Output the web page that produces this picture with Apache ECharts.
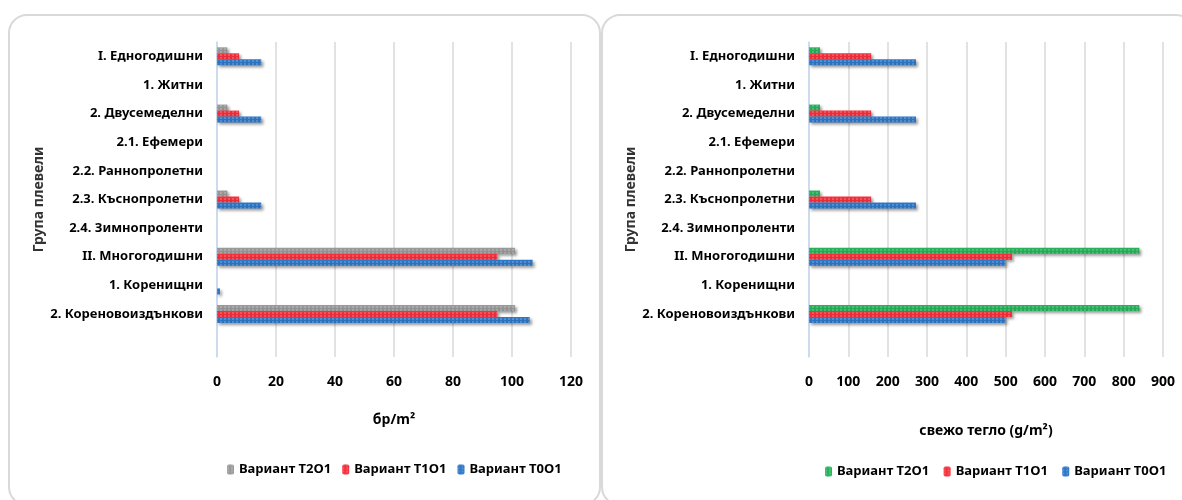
<!DOCTYPE html>
<html><head><meta charset="utf-8">
<script src="https://cdn.jsdelivr.net/npm/echarts@6/dist/echarts.min.js"></script>
<style>html,body{margin:0;padding:0;background:#fff}#c{width:1182px;height:500px}</style>
</head><body><div id="c"></div>
<script>
const categories = ['I. Едногодишни','1. Житни','2. Двусемеделни','2.1. Ефемери','2.2. Раннопролетни','2.3. Къснопролетни','2.4. Зимнопроленти','II. Многогодишни','1. Коренищни','2. Кореновоиздънкови'];
const seriesNames = ['Вариант T2O1','Вариант T1O1','Вариант T0O1'];
const countT2O1 = [3.5,0,3.5,0,0,3.5,0,101,0,101];
const countT1O1 = [7.5,0,7.5,0,0,7.5,0,95,0,95];
const countT0O1 = [15,0,15,0,0,15,0,107,1,106];
const weightT2O1 = [28,0,28,0,0,28,0,840,0,840];
const weightT1O1 = [158,0,158,0,0,158,0,516,0,516];
const weightT0O1 = [272,0,272,0,0,272,0,499,0,499];
const leftTicks = {min:0,max:120,interval:20};
const rightTicks = {min:0,max:900,interval:100};
const leftTitle = 'бр/m²';
const rightTitle = 'свежо тегло (g/m²)';
const yTitle = 'Група плевели';

const FONT = '"Noto Sans",sans-serif';
const decal = {symbol:'rect', symbolSize:0.5, color:'rgba(255,255,255,0.75)', dashArrayX:[[2,2]], dashArrayY:[2,1], rotation:0};
function bar(name, data, color, gi){
  return {name, type:'bar', data, xAxisIndex:gi, yAxisIndex:gi, barWidth:6, barGap:'0%',
    itemStyle:{color, decal, shadowColor:'rgba(0,0,0,0.35)', shadowBlur:3, shadowOffsetX:2, shadowOffsetY:2},
    emphasis:{disabled:true}};
}
function yAx(gi, gap){
  return {type:'category', gridIndex:gi, data:categories, inverse:true, max:10,
    axisTick:{show:false}, axisLine:{show:true, lineStyle:{color:'#c6d9f0', width:1.5}},
    axisLabel:{margin:14, fontFamily:FONT, fontWeight:'bold', fontSize:13, color:'#000'},
    name:yTitle, nameLocation:'middle', nameRotate:90, nameGap:gap,
    nameTextStyle:{fontFamily:FONT, fontWeight:'bold', fontSize:14, color:'#333'}};
}
function xAx(gi, t, title, gap){
  return {type:'value', gridIndex:gi, min:t.min, max:t.max, interval:t.interval,
    axisLine:{show:false}, axisTick:{show:false},
    splitLine:{show:true, lineStyle:{color:'#d9d9d9', width:1.5}},
    axisLabel:{margin:18, fontFamily:FONT, fontWeight:'bold', fontSize:14, color:'#000'},
    name:title, nameLocation:'middle', nameGap:gap,
    nameTextStyle:{fontFamily:FONT, fontWeight:'bold', fontSize:14, color:'#000'}};
}
const chart = echarts.init(document.getElementById('c'), null, {renderer:'canvas'});
const legendText = {fontFamily:FONT, fontWeight:'bold', fontSize:13, color:'#000'};
chart.setOption({
  animation:false,
  aria:{decal:{show:false}},
  graphic:[
    {type:'rect', shape:{x:9, y:15, width:591, height:490, r:18}, style:{fill:'none', stroke:'#d9d9d9', lineWidth:2}, silent:true, z:-1},
    {type:'rect', shape:{x:602, y:15, width:592, height:490, r:18}, style:{fill:'none', stroke:'#d9d9d9', lineWidth:2}, silent:true, z:-1}
  ],
  grid:[
    {left:217, right:1182-571, top:42, height:315},
    {left:809, right:1182-1163, top:42, height:315}
  ],
  xAxis:[xAx(0,leftTicks,leftTitle,56), xAx(1,rightTicks,rightTitle,67)],
  yAxis:[yAx(0,165), yAx(1,160)],
  legend:[
    {data:seriesNames, left:222, top:458, width:420, itemWidth:7, itemHeight:10, itemGap:11, textStyle:legendText, selectedMode:false},
    {data:seriesNames.map(n=>n+' '), left:820, top:460, width:420, itemWidth:7, itemHeight:10, itemGap:11, textStyle:legendText, selectedMode:false}
  ],
  series:[
    bar(seriesNames[0], countT2O1, '#9a9a9a', 0),
    bar(seriesNames[1], countT1O1, '#f5303c', 0),
    bar(seriesNames[2], countT0O1, '#2e78c8', 0),
    bar(seriesNames[0]+' ', weightT2O1, '#27b35a', 1),
    bar(seriesNames[1]+' ', weightT1O1, '#f5303c', 1),
    bar(seriesNames[2]+' ', weightT0O1, '#2e78c8', 1)
  ]
});
</script></body></html>
